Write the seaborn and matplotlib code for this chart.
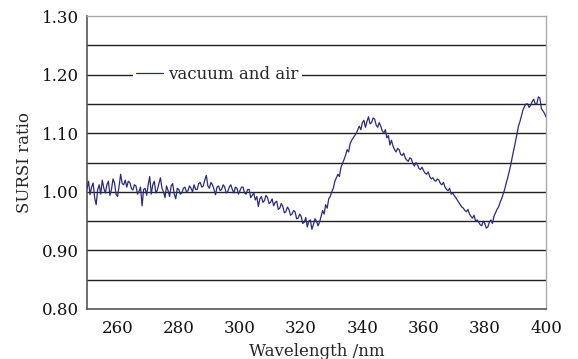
import matplotlib
matplotlib.use("Agg")
import matplotlib.pyplot as plt
import seaborn as sns
import numpy as np
import pandas as pd

# wavelength grid (nm, 0.5 nm step) and SURSI ratio
wavelength = np.arange(250, 400.01, 0.5)
ratio = [
    1.005, 1.018, 0.995, 1.008, 1.015, 0.990, 0.978, 1.004, 1.012, 0.996,
    1.020, 1.006, 0.998, 1.012, 1.018, 0.994, 1.004, 1.022, 1.015, 0.996,
    0.992, 1.010, 1.030, 1.014, 1.012, 1.020, 1.008, 1.018, 1.016, 1.006,
    1.003, 1.012, 1.010, 0.996, 1.001, 1.008, 0.976, 1.004, 1.006, 0.994,
    1.012, 1.026, 0.996, 1.012, 1.018, 0.998, 1.003, 1.014, 1.024, 1.006,
    1.000, 0.990, 1.010, 1.002, 0.992, 1.010, 1.014, 0.996, 0.988, 1.006,
    1.004, 0.996, 0.998, 1.006, 1.008, 1.000, 1.002, 1.010, 1.006, 1.000,
    1.012, 1.004, 1.004, 1.014, 1.016, 1.008, 1.010, 1.020, 1.028, 1.010,
    1.006, 1.016, 1.012, 1.004, 0.995, 1.008, 1.010, 1.002, 1.004, 1.012,
    1.008, 0.998, 1.000, 1.008, 1.012, 1.004, 0.998, 1.008, 1.006, 0.996,
    1.002, 1.008, 1.008, 0.998, 0.996, 1.004, 1.004, 0.990, 0.994, 0.998,
    0.986, 0.992, 0.975, 0.988, 0.992, 0.982, 0.985, 0.994, 0.990, 0.980,
    0.982, 0.988, 0.976, 0.982, 0.984, 0.970, 0.972, 0.980, 0.975, 0.964,
    0.966, 0.974, 0.970, 0.960, 0.962, 0.968, 0.966, 0.954, 0.955, 0.962,
    0.958, 0.946, 0.948, 0.956, 0.940, 0.950, 0.952, 0.936, 0.944, 0.954,
    0.950, 0.942, 0.948, 0.958, 0.968, 0.962, 0.978, 0.972, 0.988, 0.992,
    1.000, 1.006, 1.018, 1.024, 1.030, 1.026, 1.042, 1.048, 1.055, 1.062,
    1.072, 1.068, 1.082, 1.088, 1.092, 1.096, 1.100, 1.106, 1.112, 1.106,
    1.118, 1.122, 1.110, 1.120, 1.128, 1.116, 1.118, 1.126, 1.124, 1.114,
    1.110, 1.118, 1.112, 1.104, 1.100, 1.106, 1.092, 1.096, 1.080, 1.088,
    1.078, 1.072, 1.068, 1.074, 1.072, 1.064, 1.062, 1.066, 1.058, 1.054,
    1.052, 1.058, 1.056, 1.048, 1.044, 1.050, 1.046, 1.040, 1.038, 1.042,
    1.036, 1.032, 1.030, 1.034, 1.026, 1.022, 1.024, 1.020, 1.018, 1.022,
    1.020, 1.014, 1.012, 1.016, 1.008, 1.004, 1.002, 1.006, 0.996, 0.998,
    0.994, 0.990, 0.986, 0.982, 0.978, 0.974, 0.972, 0.968, 0.966, 0.970,
    0.962, 0.958, 0.955, 0.960, 0.950, 0.952, 0.948, 0.944, 0.942, 0.950,
    0.946, 0.938, 0.940, 0.948, 0.952, 0.946, 0.958, 0.964, 0.970, 0.974,
    0.982, 0.988, 0.996, 1.004, 1.015, 1.024, 1.035, 1.046, 1.060, 1.072,
    1.085, 1.098, 1.112, 1.120, 1.130, 1.140, 1.146, 1.150, 1.150, 1.144,
    1.148, 1.154, 1.158, 1.150, 1.150, 1.162, 1.160, 1.142, 1.138, 1.134,
    1.128,
]
series_label = "vacuum and air"
x_ticks = [260, 280, 300, 320, 340, 360, 380, 400]
y_ticks = [0.80, 0.90, 1.00, 1.10, 1.20, 1.30]
y_grid = [0.85, 0.90, 0.95, 1.00, 1.05, 1.10, 1.15, 1.20, 1.25]

df = pd.DataFrame({"wl": wavelength, "ratio": ratio})

sns.set_style("white")
plt.rcParams["font.family"] = ["DejaVu Serif"]

fig = plt.figure(figsize=(5.78, 3.59), dpi=100)
ax = fig.add_axes([0.1505, 0.1393, 0.7941, 0.8161])

for g in y_grid:
    ax.axhline(g, color="#222222", lw=1.0, zorder=1)

sns.lineplot(data=df, x="wl", y="ratio", ax=ax, color="#2b2b7d", lw=0.9,
             label=series_label, zorder=3)

ax.set_xlim(250, 400)
ax.set_ylim(0.80, 1.30)
ax.set_xticks(x_ticks)
ax.set_xticks(np.arange(250, 401, 10), minor=True)
ax.set_yticks(y_ticks)
ax.set_yticklabels([f"{v:.2f}" for v in y_ticks])
ax.tick_params(axis="both", labelsize=12, colors="#111111")
ax.tick_params(axis="x", which="both", direction="in", length=4, color="#444444",
               pad=8)
ax.tick_params(axis="y", which="both", length=0, pad=6)

for s in ["left", "bottom"]:
    ax.spines[s].set_color("#555555")
    ax.spines[s].set_linewidth(1.2)
for s in ["top", "right"]:
    ax.spines[s].set_color("#aaaaaa")
    ax.spines[s].set_linewidth(1.0)

ax.set_xlabel("Wavelength /nm", fontsize=12, labelpad=4)
ax.set_ylabel("SURSI ratio", fontsize=12, labelpad=6)

leg = ax.legend(loc="center left", bbox_to_anchor=(0.10, 0.8), frameon=True,
                fontsize=12, handlelength=1.6, handletextpad=0.3,
                borderpad=0.2, borderaxespad=0)
leg.get_frame().set_facecolor("white")
leg.get_frame().set_edgecolor("none")
leg.get_frame().set_alpha(1.0)
leg.set_zorder(5)

fig.savefig("out.png", dpi=100)
